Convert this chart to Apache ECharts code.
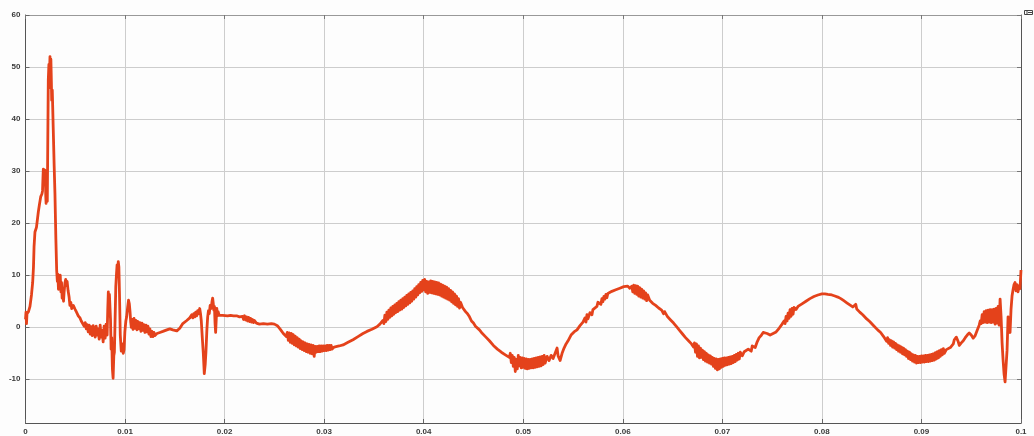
<!DOCTYPE html>
<html>
<head>
<meta charset="utf-8">
<script src="https://cdn.jsdelivr.net/npm/echarts@6/dist/echarts.min.js"></script>
<style>
  html, body { margin: 0; padding: 0; background: #fdfdfd; }
  #chart { width: 1034px; height: 436px; }
</style>
</head>
<body>
<div id="chart"></div>
<script>
// Time axis (s) and amplitude axis tick positions
const xTicks = [0, 0.01, 0.02, 0.03, 0.04, 0.05, 0.06, 0.07, 0.08, 0.09, 0.1];
const yTicks = [-10, 0, 10, 20, 30, 40, 50, 60];

// Waveform samples [time (s), value]
const startup = [
  [0, 1.5],[0.00005, 2.9],[0.0001, 0.7],[0.00015, 2.6],[0.0003, 3.0],[0.00045, 4.0],[0.0006, 6.2],[0.00072, 8.6],
  [0.0008, 11.5],[0.00086, 15.5],[0.00095, 18.3],[0.0011, 19.2],[0.00129, 22.2],[0.0014, 23.6],[0.00153, 25.1],
  [0.00165, 25.6],[0.00171, 26.2],[0.00176, 29],[0.00179, 30.4],[0.00184, 27.5],[0.00189, 29.5],[0.00195, 30.2],
  [0.002, 28],[0.00204, 25],[0.00207, 23.8],[0.00213, 26.5],[0.00219, 24.2],[0.00224, 36],[0.00229, 47.5],
  [0.00235, 50.5],[0.0024, 48],[0.00246, 52],[0.0025, 46],[0.00255, 51.5],[0.0026, 47],[0.00263, 43.6],
  [0.00269, 45.6],[0.00279, 37.9],[0.00288, 31],[0.00296, 25.5],[0.00305, 17],[0.00313, 11],[0.0032, 8.8],
  [0.00325, 10.2],[0.00331, 7.3],[0.00337, 9.8],[0.00343, 8.2],[0.00349, 10],[0.00356, 6.8],[0.00362, 8.6],
  [0.00368, 5.6],[0.00374, 6.5],[0.00382, 5.0],[0.00388, 6.8],[0.00396, 8.5],[0.00404, 9.2],[0.0041, 8.0],
  [0.00418, 8.8],[0.00428, 7.0],[0.00438, 5.8],[0.00446, 4.2],[0.00455, 4.8],[0.00464, 3.6],[0.0048, 4.2],
  [0.00497, 3.5],[0.0051, 3.0],[0.0053, 2.2],[0.00547, 1.8],[0.0056, 1.2],[0.0058, 0.9],[0.0059, 0.2],
  [0.006, 0.9],[0.0061, -0.3],[0.0062, 0.5],[0.0063, -0.9],[0.0064, 0.4],[0.0065, -1.3],[0.0066, 0.1],
  [0.0067, -1.6],[0.0068, 0.3],[0.0069, -0.8],[0.007, -1.9],[0.0071, 0.2],[0.0072, -1.5],[0.0073, -0.3],
  [0.0074, -2.3],[0.0075, 0.4],[0.0076, -1.9],[0.0077, -0.6],[0.0078, -2.8],[0.0079, 0.2],[0.008, -2.1],[0.0081, 0.6]
];

const firstTransient = [
  [0.0082, -1.5],[0.00826, 3.2],[0.00832, 6.8],[0.00837, 2.5],[0.00843, 6.3],[0.00849, 6.6],[0.00854, 1.5],
  [0.0086, -4.2],[0.00866, -2.0],[0.00873, -8.0],[0.0088, -9.8],[0.00887, -5.5],[0.00893, -4.8],[0.009, 1.5],
  [0.00907, 7.8],[0.00914, 10.2],[0.0092, 12.0],[0.00926, 10.5],[0.00932, 12.6],[0.00938, 11.6],[0.00944, 6.5],
  [0.00952, -1.5],[0.00962, -4.6],[0.00972, -3.2],[0.00982, -5.0],[0.0099, -4.3],[0.00998, -0.9],[0.01008, 1.2],
  [0.01016, 2.0],[0.01026, 3.8],[0.01035, 5.2],[0.01043, 4.5],[0.0105, 3.0],[0.01057, 1.0],[0.01063, 0.0],
  [0.0107, 1.5],[0.0108, -0.4],[0.0109, 1.7],[0.011, -0.2],[0.0111, 1.3],[0.0112, -0.5],[0.0113, 1.1],
  [0.0114, -0.3],[0.0115, 0.9],[0.0116, -0.8],[0.0117, 0.8],[0.0118, -0.6],[0.0119, 0.5],[0.012, -1.0],
  [0.0121, 0.4],[0.0122, -0.9],[0.0123, 0.2],[0.0124, -1.3],[0.0125, -0.3],[0.0126, -1.8],[0.0127, -0.8],
  [0.0128, -1.8],[0.0129, -1.0],[0.013, -1.6],[0.0132, -1.2],[0.0135, -1.0]
];

const secondTransient = [
  [0.0138, -0.8],[0.0142, -0.5],[0.0145, -0.3],[0.0148, -0.5],[0.0152, -0.7],[0.0155, -0.2],[0.0158, 0.7],
  [0.0162, 1.3],[0.0165, 1.8],[0.0167, 2.4],[0.0168, 1.8],[0.0169, 2.6],[0.017, 2.0],[0.0171, 2.9],[0.0172, 2.2],
  [0.0173, 3.2],[0.0174, 2.6],[0.0175, 3.6],[0.01758, 2.6],[0.01766, 1.2],[0.01776, -2.0],[0.01786, -5.0],
  [0.01796, -8.9],[0.01805, -7.2],[0.01813, -4.6],[0.01822, -0.5],[0.0183, 2.0],[0.01838, 3.2],[0.01846, 2.6],
  [0.01855, 4.2],[0.01865, 3.6],[0.01874, 5.0],[0.0188, 5.6],[0.01886, 4.6],[0.01892, 3.3],[0.01898, 4.0],
  [0.01904, 0.8],[0.0191, -1.0],[0.01916, 1.5],[0.01922, 3.6],[0.01928, 2.2],[0.01935, 3.0],[0.01945, 2.3],
  [0.0196, 2.6],[0.0198, 2.3],[0.02, 2.5],[0.0203, 2.2],[0.0206, 2.3],[0.0209, 2.2],[0.0212, 2.2],[0.0215, 2.0],
  [0.0218, 2.1],[0.0219, 1.5],[0.022, 2.2],[0.0221, 1.4],[0.0222, 2.0],[0.0223, 1.2],[0.0224, 1.9],[0.0225, 1.1],
  [0.0226, 1.7],[0.0227, 1.0],[0.0228, 1.5],[0.0229, 0.9],[0.023, 1.3],[0.0232, 0.8],[0.0235, 0.6],[0.0239, 0.7],
  [0.0243, 0.6]
];

const cycle1 = [
  [0.0247, 0.7],[0.025, 0.6],[0.0253, 0.3],[0.0256, -0.4],[0.0259, -1.2],[0.0262, -1.8],
  [0.0263, -1.0],[0.0264, -2.5],[0.0265, -1.1],[0.0266, -2.9],[0.0267, -1.2],[0.0268, -3.1],[0.0269, -1.4],
  [0.027, -3.4],[0.0271, -1.7],[0.0272, -3.6],[0.0273, -2.0],[0.0274, -3.8],[0.0275, -2.3],[0.0276, -4.1],
  [0.0277, -2.6],[0.0278, -4.3],[0.0279, -2.8],[0.028, -4.5],[0.0281, -3.0],[0.0282, -4.7],[0.0283, -3.2],
  [0.0284, -4.8],[0.0285, -3.3],[0.0286, -5.0],[0.0287, -3.4],[0.0288, -5.1],[0.0289, -3.5],[0.029, -5.6],
  [0.0291, -3.7],[0.0292, -4.8],[0.0293, -3.7],[0.0294, -4.7],[0.0295, -3.6],[0.0296, -4.7],[0.0297, -3.6],
  [0.0298, -4.6],[0.0299, -3.6],[0.03, -4.5],[0.0301, -3.6],[0.0302, -4.5],[0.0303, -3.5],[0.0304, -4.4],
  [0.0305, -3.5],[0.0306, -4.3],[0.0307, -3.5],[0.0308, -4.2],[0.031, -3.8],[0.0315, -3.6],[0.0319, -3.4],
  [0.0324, -2.9],[0.0329, -2.4],[0.0334, -1.8],[0.0339, -1.2],[0.0343, -0.8],[0.0348, -0.4],[0.0353, 0.1],
  [0.0356, 0.6],[0.0359, 1.3],
  [0.036, 0.7],[0.0361, 2.3],[0.0362, 1.1],[0.0363, 2.9],[0.0364, 1.5],[0.0365, 3.3],[0.0366, 1.9],[0.0367, 3.7],
  [0.0368, 2.2],[0.0369, 4.0],[0.037, 2.5],[0.0371, 4.3],[0.0372, 2.8],[0.0373, 4.6],[0.0374, 3.0],[0.0375, 4.9],
  [0.0376, 3.3],[0.0377, 5.2],[0.0378, 3.5],[0.0379, 5.5],[0.038, 3.8],[0.0381, 5.8],[0.0382, 4.1],[0.0383, 6.1],
  [0.0384, 4.4],[0.0385, 6.4],[0.0386, 4.7],[0.0387, 6.7],[0.0388, 5.0],[0.0389, 7.0],[0.039, 5.4],[0.0391, 7.4],
  [0.0392, 5.8],[0.0393, 7.8],[0.0394, 6.2],[0.0395, 8.2],[0.0396, 6.6],[0.0397, 8.6],[0.0398, 6.9],[0.0399, 9.0],
  [0.04, 7.2],[0.0401, 9.2],[0.0402, 6.8],[0.0403, 8.8],[0.0404, 6.5],[0.0405, 8.7],[0.0406, 6.7],[0.0407, 8.9],
  [0.0408, 6.6],[0.0409, 8.8],[0.041, 6.5],[0.0411, 8.7],[0.0412, 6.4],[0.0413, 8.6],[0.0414, 6.3],[0.0415, 8.5],
  [0.0416, 6.2],[0.0417, 8.3],[0.0418, 6.0],[0.0419, 8.1],[0.042, 5.8],[0.0421, 7.9],[0.0422, 5.6],[0.0423, 7.7],
  [0.0424, 5.4],[0.0425, 7.4],[0.0426, 5.2],[0.0427, 7.1],[0.0428, 4.9],[0.0429, 6.8],[0.043, 4.6],[0.0431, 6.4],
  [0.0432, 4.3],[0.0433, 6.0],[0.0434, 4.0],[0.0435, 5.5],[0.0436, 3.7],[0.0437, 4.8]
];

const cycle2 = [
  [0.0439, 3.8],[0.0442, 3.0],[0.0444, 2.6],[0.0446, 2.0],[0.0448, 1.2],[0.045, 0.8],[0.0452, 0.2],[0.0454, -0.1],
  [0.0456, -0.5],[0.0458, -1.0],[0.046, -1.2],[0.0462, -1.8],[0.0464, -2.0],[0.0466, -2.6],[0.0468, -2.7],
  [0.047, -3.5],[0.0472, -3.4],[0.0474, -4.2],[0.0476, -4.0],[0.0478, -4.8],[0.048, -4.6],[0.0482, -5.3],
  [0.0484, -5.0],[0.0486, -5.8],[0.0487, -5.0],[0.0488, -6.8],[0.0489, -5.4],[0.049, -7.5],[0.0491, -5.8],
  [0.0492, -8.5],[0.0493, -6.2],[0.0494, -8.0],[0.0495, -5.4],[0.0496, -7.4],[0.0497, -5.8],[0.0498, -7.8],
  [0.0499, -5.9],[0.05, -7.7],[0.0501, -6.0],[0.0502, -7.9],[0.0503, -6.1],[0.0504, -8.0],[0.0505, -6.2],
  [0.0506, -7.9],[0.0507, -6.2],[0.0508, -7.8],[0.0509, -6.1],[0.051, -7.8],[0.0511, -6.0],[0.0512, -7.7],
  [0.0513, -5.9],[0.0514, -7.6],[0.0515, -5.8],[0.0516, -7.5],[0.0517, -5.7],[0.0518, -7.4],[0.0519, -5.6],
  [0.052, -7.2],[0.0521, -5.4],[0.0522, -6.9],[0.0524, -5.6],[0.0526, -6.4],[0.0528, -5.4],[0.053, -6.0],
  [0.0532, -5.0],[0.0534, -4.0],[0.0535, -5.5],[0.0537, -6.4],[0.0539, -5.0],[0.0541, -4.0],[0.0543, -3.2],
  [0.0545, -2.6],
  [0.0548, -1.5],[0.0551, -0.9],[0.0554, -0.5],[0.0557, 0.3],[0.056, 1.0],[0.0562, 1.8],[0.0563, 1.0],
  [0.0564, 2.4],[0.0565, 1.6],[0.0567, 2.8],[0.0569, 2.4],[0.057, 3.4],[0.0572, 3.6],[0.0574, 4.0],[0.0575, 4.8],
  [0.0577, 5.0],[0.0578, 4.4],[0.0579, 5.5],[0.058, 4.9],[0.0581, 5.9],[0.0582, 5.4],[0.0583, 6.3],[0.0584, 5.7],
  [0.0585, 6.5],[0.0587, 6.2],[0.0589, 6.9],[0.0591, 6.7],[0.0593, 7.2],[0.0595, 7.1],[0.0597, 7.5],[0.0599, 7.4],
  [0.0601, 7.8],[0.0603, 7.5],[0.0605, 7.9],[0.0607, 7.5],[0.0609, 7.9],[0.061, 6.8],[0.0611, 8.1],[0.0612, 6.5],
  [0.0613, 8.0],[0.0614, 6.3],[0.0615, 7.9],[0.0616, 6.0],[0.0617, 7.6],[0.0618, 5.8],[0.0619, 7.3],[0.062, 5.6],
  [0.0621, 7.0],[0.0622, 5.4],[0.0623, 6.6],[0.0624, 5.1],[0.0625, 6.2],[0.0627, 5.2],[0.063, 4.6],[0.0633, 4.2],
  [0.0636, 3.7],[0.0639, 3.3],[0.0641, 2.6],[0.0642, 3.0],[0.0645, 2.0]
];

const cycle3 = [
  [0.0648, 1.4],[0.0651, 0.8],[0.0654, 0.1],[0.0657, -0.6],[0.066, -1.3],[0.0663, -2.0],[0.0666, -2.6],
  [0.0669, -3.2],[0.0671, -3.8],[0.0672, -3.0],[0.0673, -4.8],[0.0674, -3.2],[0.0675, -5.6],[0.0676, -3.6],
  [0.0677, -5.9],[0.0678, -4.0],[0.0679, -5.8],[0.068, -4.4],[0.0681, -6.2],[0.0682, -4.7],[0.0683, -6.5],
  [0.0684, -5.0],[0.0685, -6.7],[0.0686, -5.3],[0.0687, -6.9],[0.0688, -5.5],[0.0689, -7.1],[0.069, -5.8],
  [0.0691, -7.5],[0.0692, -6.0],[0.0693, -7.9],[0.0694, -6.1],[0.0695, -8.2],[0.0696, -6.2],[0.0697, -8.0],
  [0.0698, -6.1],[0.0699, -7.7],[0.07, -6.0],[0.0701, -7.5],[0.0702, -5.9],[0.0703, -7.3],[0.0704, -5.9],
  [0.0705, -7.2],[0.0706, -5.8],[0.0707, -7.1],[0.0708, -5.7],[0.0709, -7.0],[0.071, -5.6],[0.0711, -6.8],
  [0.0712, -5.4],[0.0713, -6.6],[0.0714, -5.2],[0.0715, -6.3],[0.0716, -5.0],[0.0717, -6.1],[0.0718, -4.8],
  [0.072, -5.5],[0.0722, -4.7],[0.0724, -4.9],[0.0726, -4.2],[0.0728, -4.0],[0.0729, -4.6],[0.073, -3.6],
  [0.0732, -3.3],[0.0733, -3.9],[0.0735, -2.8],[0.0737, -2.0],[0.0739, -1.6],[0.0741, -1.0],[0.0743, -0.8],
  [0.0745, -1.2],[0.0748, -1.5],[0.0751, -1.2],[0.0754, -0.9],
  [0.0757, -0.2],[0.076, 0.6],[0.0762, 1.2],[0.0763, 0.7],[0.0764, 2.1],[0.0765, 1.2],[0.0766, 2.7],[0.0767, 1.7],
  [0.0768, 3.4],[0.0769, 2.1],[0.077, 3.6],[0.0771, 2.5],[0.0772, 3.8],[0.0774, 3.4],[0.0776, 4.0],[0.0778, 4.1],
  [0.078, 4.5],[0.0782, 4.6],[0.0784, 5.0],[0.0786, 5.1],[0.0788, 5.5],[0.079, 5.6],[0.0792, 5.9],[0.0794, 6.0],
  [0.0796, 6.2],[0.0798, 6.3],[0.08, 6.4],[0.0803, 6.4],[0.0806, 6.3],[0.081, 6.2],[0.0813, 6.0],[0.0816, 5.8],
  [0.0819, 5.5],[0.0822, 5.1],[0.0825, 4.7],[0.0828, 4.3],[0.0831, 3.9],[0.0833, 4.0],[0.0834, 4.4],[0.0835, 3.5],
  [0.0836, 3.8],[0.0838, 2.9]
];

const cycle4 = [
  [0.0841, 2.4],[0.0845, 1.6],[0.0848, 1.1],[0.0852, 0.3],[0.0856, -0.5],[0.0859, -1.0],[0.0862, -1.8],
  [0.0864, -1.8],[0.0865, -2.7],[0.0866, -2.0],[0.0867, -3.1],[0.0868, -2.4],[0.0869, -3.5],[0.087, -2.6],
  [0.0871, -3.8],[0.0872, -2.8],[0.0873, -4.0],[0.0874, -3.1],[0.0875, -4.3],[0.0876, -3.4],[0.0877, -4.6],
  [0.0878, -3.6],[0.0879, -4.8],[0.088, -3.8],[0.0881, -5.1],[0.0882, -4.0],[0.0883, -5.3],[0.0884, -4.3],
  [0.0885, -5.6],[0.0886, -4.6],[0.0887, -6.0],[0.0888, -4.8],[0.0889, -6.2],[0.089, -5.1],[0.0891, -6.5],
  [0.0892, -5.3],[0.0893, -6.7],[0.0894, -5.4],[0.0895, -6.9],[0.0896, -5.6],[0.0897, -6.8],[0.0898, -5.6],
  [0.0899, -6.8],[0.09, -5.5],[0.0901, -6.7],[0.0902, -5.5],[0.0903, -6.7],[0.0904, -5.4],[0.0905, -6.6],
  [0.0906, -5.4],[0.0907, -6.6],[0.0908, -5.3],[0.0909, -6.5],[0.091, -5.2],[0.0911, -6.4],[0.0912, -5.1],
  [0.0913, -6.3],[0.0914, -4.9],[0.0915, -6.1],[0.0916, -4.7],[0.0917, -5.9],[0.0918, -4.5],[0.0919, -5.6],
  [0.092, -4.3],[0.0921, -5.3],[0.0922, -4.1],[0.0923, -5.0],[0.0925, -4.3],[0.0927, -4.0],[0.0929, -3.9],
  [0.0931, -3.6],[0.0932, -3.2],[0.0933, -2.4],[0.0935, -1.9],[0.0937, -2.8],[0.0938, -3.5],[0.094, -3.0],
  [0.0942, -2.6],[0.0944, -2.0],[0.0946, -1.5],[0.0948, -1.1],[0.095, -1.5],[0.0952, -2.1],[0.0954, -1.6]
];

const finalTransient = [
  [0.0956, -0.6],[0.0958, 0.4],[0.0959, 1.2],[0.096, 0.7],[0.0961, 2.4],[0.0962, 0.9],[0.0963, 3.0],[0.0964, 1.0],
  [0.0965, 3.2],[0.0966, 0.9],[0.0967, 3.3],[0.0968, 1.0],[0.0969, 3.4],[0.097, 0.9],[0.0971, 3.4],[0.0972, 1.0],
  [0.0973, 3.5],[0.0974, 0.6],[0.0975, 3.6],[0.0976, 0.8],[0.0977, 4.0],[0.0978, 0.4],[0.0979, 5.4],[0.098, 2.0],
  [0.0981, -3.0],[0.0982, -6.3],[0.0983, -9.0],[0.0984, -10.5],[0.0985, -7.5],[0.0986, -4.4],[0.0987, 2.0],
  [0.0988, -0.5],[0.0989, -1.0],[0.099, 3.5],[0.0991, 6.0],[0.0992, 7.2],[0.0993, 8.2],[0.0994, 8.6],[0.0995, 7.0],
  [0.0996, 8.2],[0.0997, 6.8],[0.0998, 8.0],[0.0999, 7.4],[0.1, 11]
];

const waveform = [].concat(startup, firstTransient, secondTransient, cycle1, cycle2, cycle3, cycle4, finalTransient);

const chart = echarts.init(document.getElementById('chart'), null, { renderer: 'canvas' });

const labelFont = {
  fontFamily: 'Liberation Sans, Arial, sans-serif',
  fontSize: 8,
  fontWeight: 'bold',
  color: '#3a3a3a'
};

chart.setOption({
  animation: false,
  backgroundColor: '#fdfdfd',
  grid: { left: 25.5, right: 13, top: 15, bottom: 13, containLabel: false },
  xAxis: [
    {
      type: 'value', min: 0, max: 0.1, interval: 0.01,
      axisLine: { show: true, onZero: false, lineStyle: { color: '#555', width: 1 } },
      axisTick: { show: true, inside: true, length: 4, lineStyle: { color: '#666' } },
      axisLabel: Object.assign({ margin: 5, formatter: v => String(+v.toFixed(2)) }, labelFont),
      splitLine: { show: true, lineStyle: { color: '#cdcdcd', width: 1 } }
    },
    {
      type: 'value', position: 'top', min: 0, max: 0.1, interval: 0.01,
      axisLine: { show: true, onZero: false, lineStyle: { color: '#999', width: 1 } },
      axisTick: { show: true, inside: true, length: 4, lineStyle: { color: '#777' } },
      axisLabel: { show: false },
      splitLine: { show: false }
    }
  ],
  yAxis: [
    {
      type: 'value', min: -18.4, max: 60,
      axisLine: { show: true, onZero: false, lineStyle: { color: '#555', width: 1 } },
      axisTick: { show: true, inside: true, length: 4, customValues: yTicks, lineStyle: { color: '#666' } },
      axisLabel: Object.assign({ margin: 5, customValues: yTicks }, labelFont),
      splitLine: { show: true, lineStyle: { color: '#cdcdcd', width: 1 } }
    },
    {
      type: 'value', position: 'right', min: -18.4, max: 60,
      axisLine: { show: true, onZero: false, lineStyle: { color: '#555', width: 1 } },
      axisTick: { show: true, inside: true, length: 4, customValues: yTicks, lineStyle: { color: '#777' } },
      axisLabel: { show: false },
      splitLine: { show: false }
    }
  ],
  series: [
    {
      type: 'line',
      data: waveform,
      showSymbol: false,
      symbol: 'none',
      sampling: null,
      lineStyle: { color: '#e4421b', width: 2.8, join: 'round' },
      z: 3
    }
  ],
  graphic: [
    { type: 'rect', x: 1024.5, y: 10.5, shape: { width: 8, height: 4 }, style: { fill: 'none', stroke: '#444', lineWidth: 1 } },
    { type: 'line', shape: { x1: 1027, y1: 11, x2: 1027, y2: 14 }, style: { stroke: '#444', lineWidth: 1 } },
    { type: 'line', shape: { x1: 1028, y1: 12.5, x2: 1032, y2: 12.5 }, style: { stroke: '#444', lineWidth: 1 } }
  ]
});
</script>
</body>
</html>
